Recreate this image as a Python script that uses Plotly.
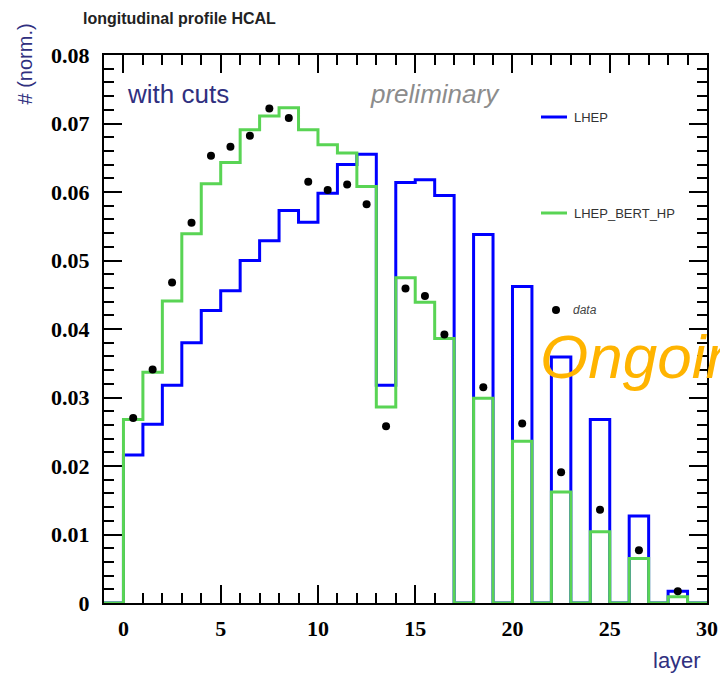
import plotly.graph_objects as go

# ---------------- data ----------------
bin_low_edges = list(range(-1, 30))          # bins [-1,0) ... [29,30)
x_upper = 30

lhep = [0,
        0.0216, 0.0261, 0.0318, 0.0380, 0.0427, 0.0456, 0.0500, 0.0529, 0.0573, 0.0556,
        0.0598, 0.0640, 0.0655, 0.0318, 0.0614, 0.0618, 0.0595, 0, 0.0538, 0,
        0.0462, 0, 0.0359, 0, 0.0268, 0, 0.0127, 0, 0.0017, 0]

lhep_bert_hp = [0,
        0.0268, 0.0337, 0.0441, 0.0539, 0.0612, 0.0643, 0.0691, 0.0711, 0.0723, 0.0691,
        0.0669, 0.0657, 0.0608, 0.0286, 0.0475, 0.0439, 0.0386, 0, 0.0299, 0,
        0.0236, 0, 0.0162, 0, 0.0104, 0, 0.0065, 0, 0.0009, 0]

data_x = [0.5, 1.5, 2.5, 3.5, 4.5, 5.5, 6.5, 7.5, 8.5, 9.5, 10.5, 11.5, 12.5, 13.5,
          14.5, 15.5, 16.5, 18.5, 20.5, 22.5, 24.5, 26.5, 28.5]
data_y = [0.0270, 0.0341, 0.0468, 0.0555, 0.0653, 0.0666, 0.0682, 0.0722, 0.0708, 0.0615,
          0.0603, 0.0611, 0.0582, 0.0258, 0.0459, 0.0448, 0.0392, 0.0315, 0.0262, 0.0191,
          0.0136, 0.0077, 0.0017]

y_tickvals = [0, 0.01, 0.02, 0.03, 0.04, 0.05, 0.06, 0.07, 0.08]
y_ticktext = ["0", "0.01", "0.02", "0.03", "0.04", "0.05", "0.06", "0.07", "0.08"]
x_tickvals = [0, 5, 10, 15, 20, 25, 30]
x_ticktext = ["0", "5", "10", "15", "20", "25", "30"]

BLUE = "#0000ff"
GREEN = "#59d454"
NAVY = "#30307f"


def step_xy(values):
    xs = bin_low_edges + [x_upper]
    ys = values + [values[-1]]
    return xs, ys


fig = go.Figure()

bx, by = step_xy(lhep)
fig.add_trace(go.Scatter(x=bx, y=by, mode="lines", line=dict(color=BLUE, width=3, shape="hv"),
                         name="LHEP", showlegend=False))
gx, gy = step_xy(lhep_bert_hp)
fig.add_trace(go.Scatter(x=gx, y=gy, mode="lines", line=dict(color=GREEN, width=3, shape="hv"),
                         name="LHEP_BERT_HP", showlegend=False))
fig.add_trace(go.Scatter(x=data_x, y=data_y, mode="markers",
                         marker=dict(color="black", size=8, symbol="circle"),
                         name="data", showlegend=False, cliponaxis=False))

tickfont = dict(family="Liberation Serif", size=22, color="black", weight="bold")

fig.update_xaxes(range=[-1, 30], showline=True, linecolor="black", linewidth=2,
                 mirror="allticks", ticks="inside", ticklen=18, tickwidth=2, tickcolor="black",
                 tickvals=x_tickvals, ticktext=x_ticktext, tickfont=tickfont,
                 minor=dict(ticks="inside", ticklen=10, tickwidth=2, tickcolor="black", dtick=1, tick0=0, showgrid=False),
                 showgrid=False, zeroline=False, layer="below traces", ticklabelstandoff=5,
                 automargin=False)
fig.update_yaxes(range=[0, 0.08], showline=True, linecolor="black", linewidth=2,
                 mirror="allticks", ticks="inside", ticklen=18, tickwidth=2, tickcolor="black",
                 tickvals=y_tickvals, ticktext=y_ticktext, tickfont=tickfont,
                 minor=dict(ticks="inside", ticklen=10, tickwidth=2, tickcolor="black", dtick=0.002, tick0=0, showgrid=False),
                 showgrid=False, zeroline=False, layer="below traces", ticklabelstandoff=8,
                 automargin=False)

L, R, T, B = 104, 13, 55, 72
W, H = 720, 675
pw, ph = W - L - R, H - T - B


def px(x):
    return (x - L) / pw


def py(y):
    return (H - B - y) / ph


annotations = [
    dict(text="longitudinal profile HCAL", x=px(81), y=py(18), xanchor="left", yanchor="middle",
         font=dict(family="Liberation Sans", size=16, color="#222222", weight="bold")),
    dict(text="# (norm.)", x=px(24), y=py(22), xanchor="center", yanchor="top", textangle=-90,
         font=dict(family="Liberation Sans", size=20, color=NAVY)),
    dict(text="with cuts", x=px(125), y=py(94), xanchor="left", yanchor="middle",
         font=dict(family="Liberation Sans", size=26, color=NAVY)),
    dict(text="<i>preliminary</i>", x=px(368), y=py(94), xanchor="left", yanchor="middle",
         font=dict(family="Liberation Sans", size=26, color="#8c8c8c")),
    dict(text="LHEP", x=px(572), y=py(117), xanchor="left", yanchor="middle",
         font=dict(family="Liberation Sans", size=13, color="#333333")),
    dict(text="LHEP_BERT_HP", x=px(572), y=py(213), xanchor="left", yanchor="middle",
         font=dict(family="Liberation Sans", size=13, color="#333333")),
    dict(text="<i>data</i>", x=px(571), y=py(310), xanchor="left", yanchor="middle",
         font=dict(family="Liberation Sans", size=12, color="#444444")),
    dict(text="layer", x=px(703), y=py(660), xanchor="right", yanchor="middle",
         font=dict(family="Liberation Sans", size=22, color=NAVY)),
    dict(text="<i>Ongoing</i>", x=px(538), y=py(356), xanchor="left", yanchor="middle",
         font=dict(family="Liberation Sans", size=62, color="#ffb400")),
]
for a in annotations:
    a.update(xref="paper", yref="paper", showarrow=False)

shapes = [
    dict(type="line", xref="paper", yref="paper", x0=px(541), x1=px(567), y0=py(117), y1=py(117),
         line=dict(color=BLUE, width=3)),
    dict(type="line", xref="paper", yref="paper", x0=px(541), x1=px(567), y0=py(213), y1=py(213),
         line=dict(color=GREEN, width=3)),
    dict(type="circle", xref="paper", yref="paper", x0=px(552), x1=px(560), y0=py(306), y1=py(314),
         fillcolor="black", line=dict(color="black", width=0)),
]

fig.update_layout(width=W, height=H, margin=dict(l=L, r=R, t=T, b=B),
                  paper_bgcolor="white", plot_bgcolor="white",
                  annotations=annotations, shapes=shapes, showlegend=False)

fig.write_html("out.html")
